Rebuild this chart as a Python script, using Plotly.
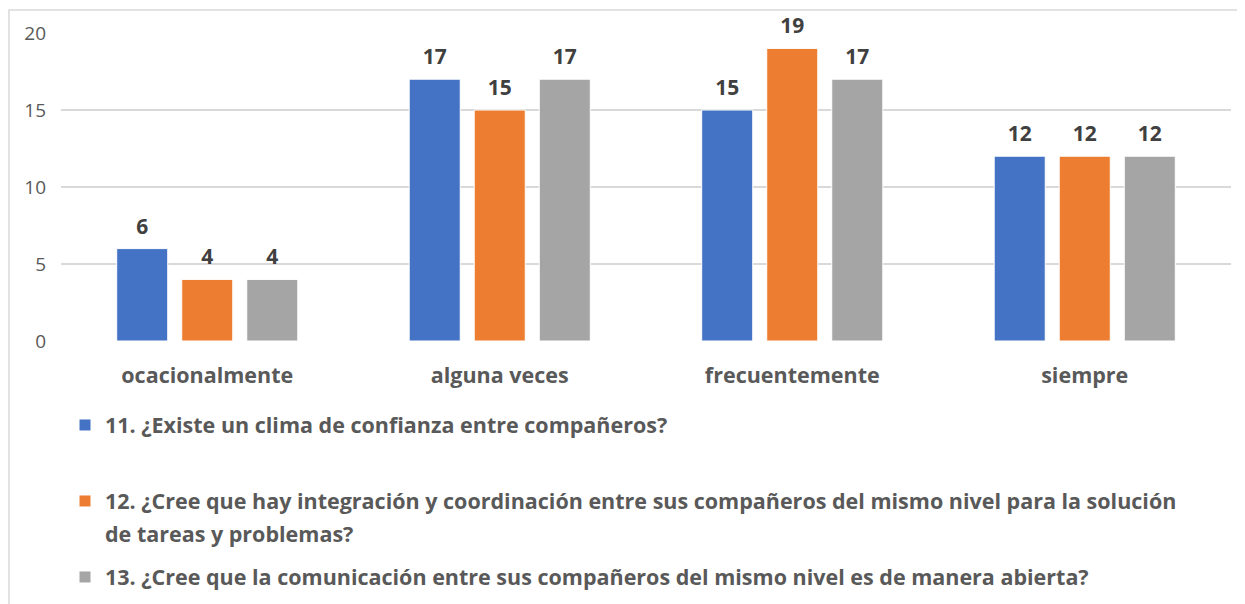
import plotly.graph_objects as go

categories = ["ocacionalmente", "alguna veces", "frecuentemente", "siempre"]
series_names = [
    "11. ¿Existe un clima de confianza entre compañeros?",
    "12. ¿Cree que hay integración y coordinación entre sus compañeros del mismo nivel para la solución",
    "13. ¿Cree que la comunicación entre sus compañeros del mismo nivel es de manera abierta?",
]
wrap_line = "de tareas y problemas?"
q11 = [6, 17, 15, 12]
q12 = [4, 15, 19, 12]
q13 = [4, 17, 17, 12]
y_ticks = [0, 5, 10, 15, 20]

colors = ["#4472C4", "#ED7D31", "#A5A5A5"]
FONT = "'Open Sans', sans-serif"
# page body has an 8px margin, so the figure is drawn 8px in from the window edge
OFF = 8
W, H = 1245 - OFF, 604 - OFF
L, R, T, B = 53, 14, 25, 263
pw, ph = W - L - R, H - T - B


def px_x(p):
    return (p - OFF - L) / pw


def px_y(p):
    return (H - B - (p - OFF)) / ph


fig = go.Figure()
for i, vals in enumerate([q11, q12, q13]):
    fig.add_trace(go.Bar(
        x=categories, y=vals, name=series_names[i],
        marker=dict(color=colors[i], line=dict(color="white", width=1)),
        offsetgroup=str(i), legend=["legend", "legend2", "legend3"][i],
    ))
    fig.add_trace(go.Scatter(
        x=categories, y=vals, mode="markers+text", text=[str(v) for v in vals],
        textposition="top center", offsetgroup=str(i),
        marker=dict(size=14, color="rgba(0,0,0,0)"),
        textfont=dict(family=FONT, size=21, color="#404040", weight="bold"),
        showlegend=False, hoverinfo="skip", cliponaxis=False,
    ))

legend_style = dict(
    font=dict(family=FONT, size=21.5, color="#595959", weight="bold"),
    bgcolor="rgba(0,0,0,0)", xanchor="left", yanchor="middle",
    itemwidth=30,
)
fig.update_layout(
    width=W, height=H,
    margin=dict(l=L, r=R, t=T, b=B, autoexpand=False),
    paper_bgcolor="white", plot_bgcolor="white",
    barmode="group", bargap=0.333, bargroupgap=0.215,
    scattermode="group", scattergap=0.333,
    showlegend=True,
    legend=dict(x=px_x(65), y=px_y(425), **legend_style),
    legend2=dict(x=px_x(65), y=px_y(501), **legend_style),
    legend3=dict(x=px_x(65), y=px_y(577), **legend_style),
    xaxis=dict(
        showgrid=False, showline=False, ticks="",
        tickfont=dict(family=FONT, size=21.5, color="#595959", weight="bold"),
        ticklabelstandoff=19,
    ),
    yaxis=dict(
        range=[0, 20], tickvals=y_ticks, showline=False, zeroline=False,
        gridcolor="#D9D9D9", gridwidth=1.5, ticks="",
        tickfont=dict(family=FONT, size=19, color="#595959"),
        ticklabelstandoff=14,
    ),
    annotations=[dict(
        text=wrap_line, xref="paper", yref="paper",
        x=px_x(103), y=px_y(533), xanchor="left", yanchor="middle",
        showarrow=False,
        font=dict(family=FONT, size=21.5, color="#595959", weight="bold"),
    )],
    shapes=[dict(
        type="rect", xref="paper", yref="paper",
        x0=px_x(9), y0=px_y(630), x1=px_x(1270), y1=px_y(10),
        line=dict(color="#D9D9D9", width=1.5), layer="below",
    )],
)

fig.write_html("out.html")
